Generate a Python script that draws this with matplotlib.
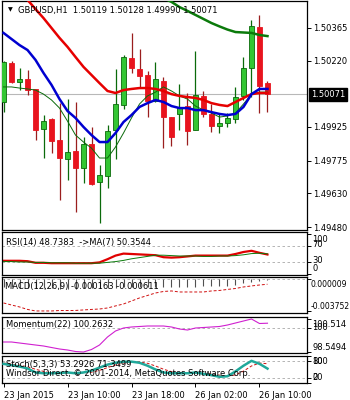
import matplotlib
matplotlib.use('Agg')
import matplotlib.pyplot as plt
import matplotlib.transforms as mtransforms
import numpy as np

plt.rcParams['font.family'] = ['DejaVu Sans']
FS = 6.0

# ---------------- data ----------------
opens = [1.50036, 1.50209, 1.50125, 1.50138, 1.50094, 1.49916, 1.49960, 1.49867, 1.49782, 1.49818,
         1.49742, 1.49849, 1.49680, 1.49707, 1.49911, 1.50023, 1.50232, 1.50183, 1.50156, 1.50040,
         1.50129, 1.49969, 1.49983, 1.50018, 1.49911, 1.50063, 1.49983, 1.49929, 1.49943, 1.49960,
         1.50063, 1.50187, 1.50369, 1.50119]
highs = [1.50218, 1.50218, 1.50187, 1.50178, 1.50094, 1.49978, 1.49965, 1.50031, 1.50049, 1.50036,
         1.49880, 1.49925, 1.49756, 1.49934, 1.50183, 1.50245, 1.50343, 1.50272, 1.50174, 1.50214,
         1.50147, 1.49969, 1.50116, 1.50076, 1.50263, 1.50085, 1.50027, 1.49987, 1.49987, 1.50103,
         1.50236, 1.50401, 1.50423, 1.50128]
lows = [1.49991, 1.50120, 1.50089, 1.50067, 1.49867, 1.49787, 1.49809, 1.49600, 1.49689, 1.49547,
        1.49676, 1.49667, 1.49498, 1.49653, 1.49782, 1.50005, 1.50165, 1.50103, 1.49969, 1.50036,
        1.49831, 1.49840, 1.49911, 1.49845, 1.49911, 1.49969, 1.49902, 1.49898, 1.49925, 1.49943,
        1.50045, 1.50058, 1.49987, 1.49990]
closes = [1.50214, 1.50125, 1.50138, 1.50089, 1.49911, 1.49951, 1.49862, 1.49787, 1.49814, 1.49742,
          1.49849, 1.49671, 1.49711, 1.49907, 1.50027, 1.50236, 1.50187, 1.50152, 1.50040, 1.50138,
          1.49969, 1.49880, 1.50014, 1.49907, 1.50067, 1.49983, 1.49929, 1.49943, 1.49965, 1.50058,
          1.50187, 1.50374, 1.50107, 1.50071]

ma_red = [1.50610, 1.50570, 1.50530, 1.50490, 1.50449, 1.50409, 1.50365, 1.50321, 1.50281, 1.50236,
          1.50192, 1.50156, 1.50120, 1.50085, 1.50076, 1.50089, 1.50094, 1.50098, 1.50098, 1.50094,
          1.50085, 1.50071, 1.50063, 1.50058, 1.50054, 1.50045, 1.50031, 1.50023, 1.50018, 1.50036,
          1.50054, 1.50071, 1.50076, 1.50076]
ma_blue = [1.50343, 1.50316, 1.50289, 1.50267, 1.50223, 1.50165, 1.50112, 1.50049, 1.49996, 1.49965,
           1.49925, 1.49889, 1.49858, 1.49858, 1.49898, 1.49947, 1.49978, 1.50014, 1.50031, 1.50045,
           1.50036, 1.50018, 1.50009, 1.50009, 1.50000, 1.50000, 1.49991, 1.49983, 1.49978, 1.49983,
           1.50014, 1.50071, 1.50094, 1.50094]
ma_fast = [1.50103, 1.50103, 1.50098, 1.50094, 1.50089, 1.50071, 1.50045, 1.50009, 1.49951, 1.49889,
           1.49858, 1.49831, 1.49787, 1.49787, 1.49836, 1.49898, 1.49965, 1.50027, 1.50063, 1.50080,
           1.50103, 1.50085, 1.50063, 1.50049, 1.50018, 1.50000, 1.49987, 1.49969, 1.49974, 1.49987,
           1.50027, 1.50071, 1.50080, 1.50080]
ma_long = [np.nan] * 20 + [1.50498, 1.50481, 1.50458, 1.50441, 1.50423, 1.50405, 1.50387, 1.50372,
                           1.50358, 1.50347, 1.50345, 1.50343, 1.50334, 1.50329]

rsi = [33, 33, 33, 32, 28, 28, 27, 27, 27, 27, 27, 27, 29, 37, 46, 51, 50, 49, 48, 47,
       42, 41, 42, 44, 46, 46, 46, 46, 46, 50, 55, 58, 53, 48.74]
rsi_ma = [31, 31, 30, 30, 29, 29, 28, 28, 28, 27, 27, 27, 27, 29, 31, 34, 38, 41, 44, 47,
          47, 46, 45, 45, 45, 44, 44, 45, 45, 46, 48, 51, 52, 50.35]

macd_main = [-0.00095, -0.00098, -0.00100, -0.00102, -0.00105, -0.00108, -0.00110, -0.00112, -0.00112,
             -0.00112, -0.00110, -0.00110, -0.00108, -0.00105, -0.00100, -0.00095, -0.00090, -0.00088,
             -0.00088, -0.00088, -0.00088, -0.00088, -0.00088, -0.00088, -0.00088, -0.00085, -0.00085,
             -0.00085, -0.00080, -0.00065, -0.00045, -0.00030, -0.00020, -0.000163]
macd_signal = [-0.00281, -0.00305, -0.00328, -0.00357, -0.00375, -0.00375, -0.00375, -0.00370, -0.00370,
               -0.00369, -0.00363, -0.00357, -0.00352, -0.00340, -0.00316, -0.00293, -0.00258, -0.00222,
               -0.00193, -0.00164, -0.00146, -0.00140, -0.00152, -0.00152, -0.00152, -0.00152, -0.00140,
               -0.00134, -0.00122, -0.00111, -0.00093, -0.00081, -0.00070, -0.000611]

momentum = [99.145, 99.145, 99.085, 99.026, 98.966, 98.907, 98.817, 98.728, 98.669, 98.579,
            98.549, 98.698, 98.966, 99.443, 99.800, 99.978, 100.038, 100.068, 100.097, 100.097,
            100.097, 100.038, 99.919, 99.859, 99.978, 100.008, 100.038, 100.068, 100.157, 100.276,
            100.395, 100.514, 100.246, 100.263]

stoch_main = [71, 66, 61, 54, 39, 36, 36, 37, 39, 36, 39, 46, 57, 68, 75, 79, 79, 75, 64, 50,
              39, 36, 36, 36, 39, 34, 29, 23, 25, 43, 64, 82, 71, 53.29]
stoch_signal = [74, 70, 66, 60, 51, 43, 37, 36, 37, 37, 38, 40, 47, 57, 67, 74, 78, 78, 73, 63,
                51, 42, 37, 36, 37, 36, 34, 29, 26, 30, 44, 63, 74, 71.35]

main_ticks = [1.50365, 1.50220, 1.49925, 1.49775, 1.49630, 1.49480]
last_price = 1.50071
x_tick_idx = [0, 8, 16, 24, 32]
x_tick_labels = ['23 Jan 2015', '23 Jan 10:00', '23 Jan 18:00', '26 Jan 02:00', '26 Jan 10:00']

# ---------------- layout ----------------
W, H = 350, 400
fig = plt.figure(figsize=(3.5, 4.0), dpi=100)
fig.patch.set_facecolor('white')


def axrect(y0, y1, x0=2, x1=307):
    return [x0 / W, 1 - y1 / H, (x1 - x0) / W, (y1 - y0) / H]


ax_main = fig.add_axes(axrect(1, 230))
ax_rsi = fig.add_axes(axrect(232, 275))
ax_macd = fig.add_axes(axrect(277, 313))
ax_mom = fig.add_axes(axrect(317, 353))
ax_sto = fig.add_axes(axrect(356, 383))
axes = [ax_main, ax_rsi, ax_macd, ax_mom, ax_sto]

n = len(closes)
x = np.arange(n)
XLIM = (-0.19, 37.94)

for a in axes:
    a.set_xlim(*XLIM)
    a.set_facecolor('white')
    for s in a.spines.values():
        s.set_linewidth(0.9)
        s.set_color('black')
    a.yaxis.tick_right()
    a.tick_params(axis='y', which='both', direction='out', length=3, width=0.7,
                  pad=1.5, labelsize=FS, colors='black')
    a.set_xticks([])

# ---------------- main chart ----------------
ax_main.set_ylim(1.49467, 1.50485)
ax_main.axhline(last_price, color='#B8B8B8', lw=0.8, zorder=1)

GREEN_BODY = '#33C633'
GREEN_EDGE = '#0A6A0A'
RED_BODY = '#E8141E'
RED_WICK = '#9A1E1E'
for i in range(n):
    o, h, l, c = opens[i], highs[i], lows[i], closes[i]
    up = c >= o
    wick_c = GREEN_EDGE if up else RED_WICK
    ax_main.vlines(x[i], l, h, color=wick_c, lw=0.9, zorder=2)
    ax_main.bar(x[i], abs(c - o) if abs(c - o) > 0 else 0.00002, bottom=min(o, c), width=0.62,
                color=GREEN_BODY if up else RED_BODY,
                edgecolor=GREEN_EDGE if up else RED_BODY, linewidth=0.6, zorder=3)

ax_main.plot(x, ma_fast, color='#0A6A0A', lw=0.7, zorder=4)
ax_main.plot(x, ma_red, color='#E60000', lw=1.8, zorder=5)
ax_main.plot(x, ma_blue, color='#0000D0', lw=1.8, zorder=6)
ax_main.plot(x, ma_long, color='#0B7A0B', lw=1.8, zorder=5)

ax_main.set_yticks(main_ticks)
ax_main.set_yticklabels(['%.5f' % v for v in main_ticks])
blend = mtransforms.blended_transform_factory(ax_main.transAxes, ax_main.transData)
ax_main.text(1.0 + 4 / 304, last_price, '1.50071', transform=blend, fontsize=FS, color='white',
             va='center', ha='left',
             bbox=dict(boxstyle='square,pad=0.25', fc='black', ec='black'), zorder=10, clip_on=False)

fig.text(8 / W, 1 - 10 / H, '\u25BC', fontsize=4.5, va='center', ha='left', color='black')
fig.text(18 / W, 1 - 10 / H, 'GBPUSD,H1  1.50119 1.50128 1.49990 1.50071', fontsize=FS,
         va='center', ha='left', color='black')

# ---------------- RSI ----------------
ax_rsi.set_ylim(-2.5, 105)
for lv in (70, 30):
    ax_rsi.axhline(lv, color='#A8A8A8', lw=0.6, ls=(0, (3, 3)))
ax_rsi.plot(x, rsi_ma, color='#0A7A0A', lw=0.7, zorder=3)
ax_rsi.plot(x, rsi, color='#E00000', lw=1.6, zorder=2)
ax_rsi.set_yticks([100, 70, 30, 0])
ax_rsi.set_yticklabels([])
b = mtransforms.blended_transform_factory(ax_rsi.transAxes, ax_rsi.transData)
for lv, lab, off in [(100, '100', -4), (70, '70', 1), (30, '30', 1), (0, '0', 4)]:
    ax_rsi.annotate(lab, xy=(1, lv), xycoords=b, xytext=(4, off), textcoords='offset points',
                    fontsize=FS, va='center', ha='left', annotation_clip=False)
fig.text(6 / W, 1 - 242 / H, 'RSI(14) 48.7383  ->MA(7) 50.3544', fontsize=FS, va='center', ha='left')

# ---------------- MACD ----------------
ax_macd.set_ylim(-0.00399, 0.00024)
ax_macd.axhline(0, color='#A8A8A8', lw=0.6, ls=(0, (3, 3)))
ax_macd.vlines(x, 0, macd_main, color='#505050', lw=0.8, zorder=2)
ax_macd.plot(x, macd_signal, color='#D01010', lw=0.7, ls=(0, (3, 2)), zorder=3)
ax_macd.set_yticks([0.000009, -0.003752])
ax_macd.set_yticklabels([])
b = mtransforms.blended_transform_factory(ax_macd.transAxes, ax_macd.transData)
for lv, lab, off in [(0.000009, '0.000009', -4), (-0.003752, '-0.003752', 3)]:
    ax_macd.annotate(lab, xy=(1, lv), xycoords=b, xytext=(2.5, off), textcoords='offset points',
                     fontsize=5.5, va='center', ha='left', annotation_clip=False)
fig.text(5 / W, 1 - 286 / H, 'MACD(12,26,9) -0.000163 -0.000611', fontsize=FS, va='center', ha='left')

# ---------------- Momentum ----------------
ax_mom.set_ylim(98.490, 100.633)
ax_mom.axhline(100, color='#A8A8A8', lw=0.6, ls=(0, (3, 3)))
ax_mom.plot(x, momentum, color='#D020D0', lw=0.8)
ax_mom.set_yticks([100.514, 100, 98.5494])
ax_mom.set_yticklabels([])
b = mtransforms.blended_transform_factory(ax_mom.transAxes, ax_mom.transData)
for lv, lab, off in [(100.514, '100.514', -4), (100, '100', 0), (98.5494, '98.5494', 3)]:
    ax_mom.annotate(lab, xy=(1, lv), xycoords=b, xytext=(4, off), textcoords='offset points',
                    fontsize=FS, va='center', ha='left', annotation_clip=False)
fig.text(6 / W, 1 - 325 / H, 'Momentum(22) 100.2632', fontsize=FS, va='center', ha='left')

# ---------------- Stochastic ----------------
ax_sto.set_ylim(0, 100)
for lv in (80, 20):
    ax_sto.axhline(lv, color='#A8A8A8', lw=0.6, ls=(0, (3, 3)))
ax_sto.plot(x, stoch_signal, color='#D01010', lw=0.7, ls=(0, (3, 2)), zorder=2)
ax_sto.plot(x, stoch_main, color='#20A89A', lw=1.8, zorder=3)
ax_sto.set_yticks([100, 80, 20, 0])
ax_sto.set_yticklabels([])
b = mtransforms.blended_transform_factory(ax_sto.transAxes, ax_sto.transData)
for lv, lab, off in [(100, '100', -4), (80, '80', 0), (20, '20', 0), (0, '0', 4)]:
    ax_sto.annotate(lab, xy=(1, lv), xycoords=b, xytext=(4, off), textcoords='offset points',
                    fontsize=FS, va='center', ha='left', annotation_clip=False)
fig.text(6 / W, 1 - 365 / H, 'Stoch(5,3,3) 53.2926 71.3499', fontsize=FS, va='center', ha='left')
fig.text(6 / W, 1 - 374 / H, 'Windsor Direct, \u00a9 2001-2014, MetaQuotes Software Corp.',
         fontsize=FS, va='center', ha='left')

# ---------------- x axis ----------------
ax_sto.set_xticks(x_tick_idx)
ax_sto.set_xticklabels(x_tick_labels, fontsize=FS)
ax_sto.tick_params(axis='x', direction='out', length=3, width=0.7, pad=3)
for lab in ax_sto.get_xticklabels():
    lab.set_ha('left')

fig.savefig('out.png', dpi=100, facecolor='white')
